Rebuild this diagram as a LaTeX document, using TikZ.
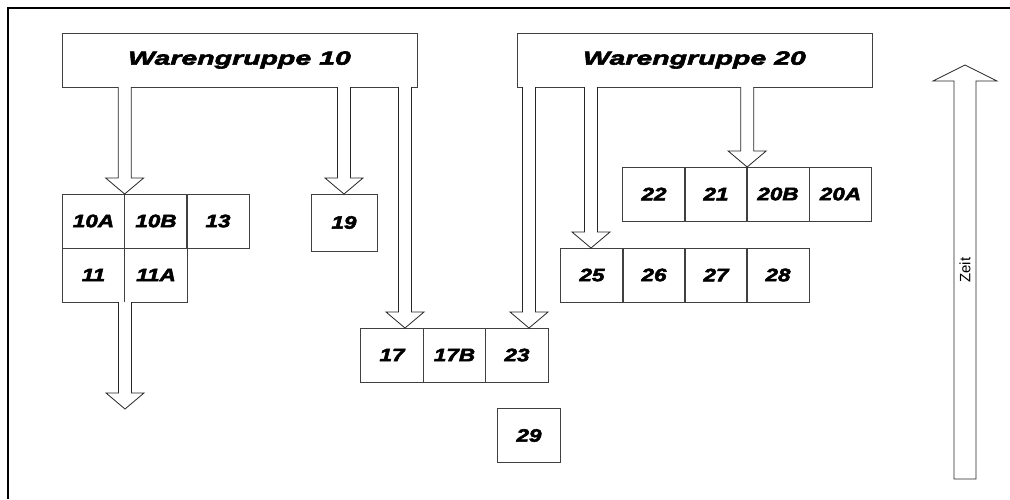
\documentclass[tikz,border=0pt]{standalone}
\usepackage{fontspec}
\setmainfont{Liberation Sans}
\newfontfamily\wgfont[FakeStretch=1.5,FakeBold=3]{Liberation Sans}
\newfontfamily\cellfont[FakeStretch=1.25,FakeBold=3]{Liberation Sans}
\usetikzlibrary{calc}
\tikzset{
  cellbox/.style={draw=black!75, line width=0.9pt, inner sep=0pt, outer sep=0pt,
    minimum width=62.3pt, minimum height=54pt,
    font=\cellfont\bfseries\itshape\fontsize{18}{20}\selectfont},
  wgbox/.style={cellbox, minimum width=355pt,
    font=\wgfont\bfseries\itshape\fontsize{19}{20}\selectfont},
  blk/.style={draw=black!85, line width=0.8pt, fill=white, line join=miter}
}
\newcommand\blkdown[2]{\draw[blk] let \p1=(#1), \p2=(#2) in
  (\x2-6.5pt,\y1) -- (\x2-6.5pt,\y2+16pt) -- (\x2-19pt,\y2+16pt) -- (\x2,\y2)
  -- (\x2+19pt,\y2+16pt) -- (\x2+6.5pt,\y2+16pt) -- (\x2+6.5pt,\y1);}
\begin{document}
\begin{tikzpicture}[x=1pt,y=-1pt]
\useasboundingbox (0,0) rectangle (1010,499);
% frame
\draw[line width=2.5pt] (8,499) -- (8,8) -- (1010,8);

% group boxes
\node[wgbox] (wg10) at (239.5,60) {Warengruppe 10};
\node[wgbox] (wg20) at (694.5,60) {Warengruppe 20};

% cells group 10
\node[cellbox] (c10A) at (93.5,221) {10A};
\node[cellbox] (c10B) at (156,221) {10B};
\node[cellbox] (c13)  at (218,221) {13};
\node[cellbox] (c11)  at (93.5,275) {11};
\node[cellbox] (c11A) at (156,275) {11A};
\node[cellbox, minimum width=66pt, minimum height=57pt] (c19) at (344,222.5) {19};

% row 17
\node[cellbox] (c17)  at (392,355) {17};
\node[cellbox] (c17B) at (454.5,355) {17B};
\node[cellbox] (c23)  at (517,355) {23};
\node[cellbox] (c29)  at (529,435.5) {29};

% row 22
\node[cellbox] (c22)  at (654,194) {22};
\node[cellbox] (c21)  at (716,194) {21};
\node[cellbox] (c20B) at (778,194) {20B};
\node[cellbox] (c20A) at (840.5,194) {20A};

% row 25
\node[cellbox] (c25) at (592,275) {25};
\node[cellbox] (c26) at (654,275) {26};
\node[cellbox] (c27) at (716,275) {27};
\node[cellbox] (c28) at (778,275) {28};

% arrow tips
\coordinate (t17) at ($(c17.north)+(13,0)$);
\coordinate (t23) at ($(c23.north)+(12,0)$);
\coordinate (t25) at ($(c25.north)+(-1,0)$);
\coordinate (tout) at (125,409);

\blkdown{wg10.south}{c10A.north east}
\blkdown{wg10.south}{c19.north}
\blkdown{wg10.south}{t17}
\blkdown{wg20.south}{t23}
\blkdown{wg20.south}{t25}
\blkdown{wg20.south}{c21.north east}
\blkdown{c11.south east}{tout}

% time arrow
\coordinate (zb) at (965,479);
\coordinate (zt) at (965,65);
\draw[blk] let \p1=(zb), \p2=(zt) in
  (\x1-11pt,\y1) -- (\x1-11pt,\y2-16pt) -- (\x1-32pt,\y2-16pt) -- (\x2,\y2)
  -- (\x1+32pt,\y2-16pt) -- (\x1+11pt,\y2-16pt) -- (\x1+11pt,\y1) -- cycle;
\node[rotate=90, font=\fontsize{15}{17}\selectfont, inner sep=0pt] (zeit) at (965,270) {Zeit};
\end{tikzpicture}
\end{document}
